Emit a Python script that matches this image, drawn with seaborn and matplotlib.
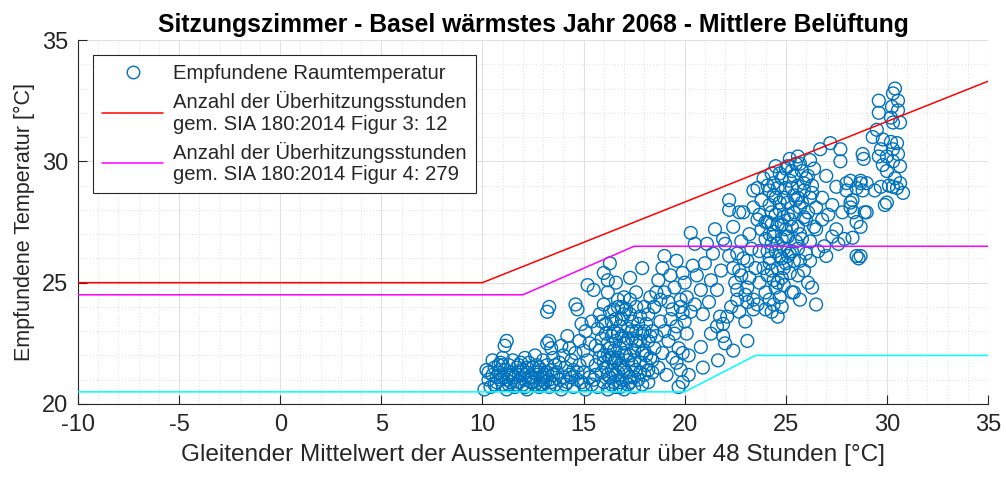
import matplotlib
matplotlib.use("Agg")
import matplotlib.pyplot as plt
import pandas as pd
import seaborn as sns
from matplotlib.lines import Line2D
from matplotlib.ticker import MultipleLocator

# ---------------------------------------------------------------------------
# Hourly points: 48h running mean of outdoor temperature vs. perceived room temp
# ---------------------------------------------------------------------------
mild_x = [10.2, 10.3, 10.4, 10.5, 10.6, 10.7, 10.8, 10.9, 11.0, 11.0, 11.1, 11.2, 11.2, 11.3,
          11.4, 11.4, 11.5, 11.6, 11.6, 11.7, 11.8, 11.8, 11.9, 12.0, 12.0, 12.1, 12.2, 12.2,
          12.3, 12.4, 12.4, 12.5, 12.6, 12.7, 12.7, 12.8, 12.9, 12.9, 13.0, 13.1, 13.1, 13.2,
          13.3, 13.3, 13.4, 13.5, 10.1, 10.5, 11.1, 11.2, 11.0, 12.6, 12.1,
          10.3, 10.6, 10.8, 10.9, 11.3, 11.5, 11.7, 11.9, 12.1, 12.3, 12.5, 12.8, 13.0, 13.2,
          13.4, 10.7, 11.0, 11.3, 11.8, 12.2, 12.6, 12.9, 13.0, 13.5, 13.6, 13.8, 14.1, 14.4,
          14.7, 15.0]
mild_y = [21.4, 21.0, 20.7, 21.2, 21.5, 20.9, 21.3, 21.7, 20.8, 21.1, 21.4, 20.6, 21.0, 21.6,
          20.9, 21.3, 21.8, 20.7, 21.1, 21.5, 20.9, 21.2, 21.7, 20.8, 21.4, 21.0, 20.6, 21.3,
          21.7, 20.9, 21.1, 21.5, 20.8, 21.2, 21.6, 20.7, 21.0, 21.4, 21.8, 20.9, 21.2, 21.6,
          20.7, 21.0, 21.4, 21.9, 20.6, 21.8, 22.4, 22.6, 21.9, 22.0, 21.9,
          21.3, 20.8, 21.6, 21.0, 20.8, 21.2, 20.8, 21.3, 20.7, 21.1, 20.9, 21.5, 20.8, 21.3,
          20.9, 21.1, 21.6, 21.2, 21.6, 21.5, 21.3, 20.8, 21.1, 21.2, 21.6, 21.0, 20.8, 21.1,
          21.3, 20.8]

spring_x = [13.6, 13.7, 13.8, 13.9, 14.0, 14.0, 14.1, 14.2, 14.3, 14.3, 14.4, 14.5, 14.5, 14.6,
            14.7, 14.8, 14.8, 14.9, 15.0, 15.0, 15.1, 15.1, 15.2, 15.3, 15.3, 15.4, 15.4, 13.3,
            13.4, 13.2, 13.2, 13.3, 14.7, 14.6, 14.2, 14.9, 13.9]
spring_y = [20.8, 21.3, 21.7, 20.6, 21.1, 22.0, 21.5, 20.9, 22.3, 21.2, 21.8, 20.7, 21.4, 22.1,
            21.0, 22.6, 21.6, 20.9, 21.3, 22.2, 23.0, 20.6, 21.8, 22.5, 21.1, 23.4, 20.8, 22.6,
            22.3, 22.5, 23.8, 24.0, 23.9, 24.1, 22.8, 23.3, 22.4]

warm_x = [15.5, 15.6, 15.6, 15.7, 15.7, 15.8, 15.8, 15.9, 15.9, 16.0, 16.0, 16.0,
          16.1, 16.1, 16.2, 16.2, 16.2, 16.3, 16.3, 16.3, 16.4, 16.4, 16.4, 16.5, 16.5, 16.5,
          16.6, 16.6, 16.6, 16.6, 16.7, 16.7, 16.8, 16.8, 16.8, 16.9, 16.9, 16.9, 17.0, 17.0, 17.0,
          17.1, 17.1, 17.1, 17.2, 17.2, 17.2, 17.3, 17.3, 17.3, 17.4, 17.4, 17.4, 17.5, 17.5,
          17.6, 17.6, 17.6, 17.7, 17.7, 17.8, 17.8, 17.9, 17.9, 18.0, 18.0, 18.0,
          18.1, 18.1, 18.2, 18.2, 18.3, 18.3, 18.4, 18.4, 18.5, 18.5,
          15.2, 15.5, 16.2, 16.7, 17.0, 16.3, 17.3, 17.9, 16.0, 16.6,
          15.6, 15.8, 16.0, 16.1, 16.2, 16.3, 16.4, 16.5, 16.6, 16.7, 16.8, 16.9, 17.0, 17.1,
          17.2, 17.3, 17.4, 17.5, 17.6, 17.7, 17.8, 17.9, 18.0, 18.1, 18.2, 18.3, 16.5, 16.9,
          17.6, 15.9, 16.2, 16.7, 17.3, 17.8, 18.4, 17.0, 16.4, 17.5, 16.8, 18.2]
warm_y = [21.0, 21.6, 22.4, 20.7, 23.1, 21.9, 23.7, 21.3, 22.7, 20.9, 24.1, 22.0,
          21.5, 23.3, 20.6, 22.5, 24.6, 21.1, 21.9, 23.8, 20.8, 22.8, 21.4, 23.0, 22.2, 21.7,
          20.7, 21.2, 22.6, 23.5, 21.9, 24.0, 20.9, 22.3, 23.2, 21.5, 22.8, 21.0, 23.7, 22.1, 20.6,
          21.3, 22.5, 23.9, 20.8, 21.8, 23.1, 22.0, 24.3, 21.1, 22.7, 21.6, 23.4, 20.7, 22.2,
          21.4, 23.0, 24.6, 21.0, 22.4, 21.7, 23.6, 20.8, 22.9, 21.2, 22.2, 24.0,
          21.6, 23.3, 20.9, 22.6, 21.9, 24.4, 21.3, 23.0, 22.3, 24.0,
          24.9, 24.7, 25.1, 24.3, 24.4, 25.8, 25.2, 25.6, 25.4, 25.0,
          21.2, 22.2, 21.7, 22.9, 21.2, 22.3, 23.4, 20.9, 21.8, 22.9, 21.6, 23.5, 21.4, 22.0,
          22.7, 20.9, 23.0, 21.8, 22.6, 23.3, 21.3, 22.1, 23.0, 22.0, 21.4, 22.8, 23.9, 24.0,
          24.0, 23.4, 22.0, 21.3, 23.7, 22.6, 21.8, 22.5, 21.9, 21.1, 20.7, 23.7]

early_summer_x = [18.8, 19.8, 18.5, 19.4, 19.9, 19.0, 19.6, 18.9, 19.9, 20.1, 19.9, 19.6, 19.9,
                  19.7, 20.3, 20.5, 20.6, 20.8, 20.8,
                  18.6, 18.7, 18.8, 18.9, 19.0, 19.0, 19.1, 19.2, 19.2, 19.3, 19.4, 19.5, 19.5,
                  19.6, 19.7, 19.8, 19.8, 20.0, 20.0, 20.1, 20.2, 20.3, 20.4, 20.5, 18.7, 19.3,
                  18.6, 20.2]
early_summer_y = [24.3, 24.3, 24.0, 23.9, 23.75, 26.1, 25.9, 25.6, 25.4, 22.9, 22.1, 21.7, 20.9,
                  20.7, 27.05, 26.6, 25.3, 24.7, 22.35,
                  22.8, 21.5, 23.4, 22.1, 24.6, 23.0, 21.2, 22.6, 24.2, 23.5, 21.9, 22.9, 24.8,
                  23.2, 22.3, 24.0, 21.4, 23.4, 25.0, 24.4, 22.0, 23.8, 25.7, 24.1, 25.1, 25.3,
                  24.6, 21.2]

summer_x = [21.1, 21.3, 21.6, 21.75, 21.6, 21.9, 22.0, 21.65, 23.1, 22.6, 23.1, 23.4, 22.6,
            22.7, 23.1, 22.2, 23.4, 23.6, 22.9, 22.2, 22.7, 23.4, 21.9, 22.6, 22.2, 23.4, 23.1,
            22.1, 21.9,
            22.5, 22.8, 23.0, 23.2, 22.9, 23.3, 22.4, 23.5, 23.0, 22.7, 21.0, 21.4, 20.9, 21.2,
            22.3, 21.8, 22.0, 21.5, 22.4, 23.2, 22.8, 21.3, 22.4, 20.9]
summer_y = [26.6, 25.1, 24.7, 23.6, 23.2, 22.8, 22.5, 21.8, 22.6, 24.3, 24.8, 24.3, 24.7,
            25.5, 25.9, 28.0, 28.1, 27.6, 27.9, 28.4, 27.9, 28.8, 26.8, 26.2, 26.1, 23.9, 24.2,
            23.6, 23.3,
            25.0, 25.3, 24.5, 25.2, 26.0, 26.4, 25.6, 25.6, 23.4, 23.8, 25.8, 26.2, 23.7, 24.2,
            24.0, 25.5, 26.6, 27.2, 27.3, 27.0, 26.7, 22.9, 22.2, 21.5]

hot_x = [23.6, 23.7, 23.7, 23.8, 23.8, 23.9, 23.9, 24.0, 24.0, 23.6, 23.7, 24.0,
         24.1, 24.1, 24.1, 24.2, 24.2, 24.2, 24.3, 24.3, 24.3, 24.4, 24.4, 24.4, 24.5, 24.5,
         24.5, 24.3, 24.4, 24.2,
         24.6, 24.6, 24.6, 24.7, 24.7, 24.7, 24.8, 24.8, 24.8, 24.9, 24.9, 24.9, 25.0, 25.0,
         25.0, 24.6, 24.8,
         25.1, 25.1, 25.1, 25.2, 25.2, 25.3, 25.3, 25.3, 25.4, 25.4, 25.5, 25.5, 25.4, 25.2,
         25.6, 25.6, 25.6, 25.7, 25.7, 25.8, 25.8, 25.9, 25.9, 26.0, 26.0, 25.7, 25.6,
         26.1, 26.1, 26.2, 26.2, 26.2, 26.3, 26.3, 26.4, 26.5, 26.5, 26.5, 26.4,
         24.0, 24.1, 24.2, 24.3, 24.4, 24.5, 24.6, 24.7, 24.8, 24.9, 25.0, 25.1, 25.2, 25.3,
         25.4, 25.5, 25.6, 25.7, 25.8, 25.9, 26.0, 26.1, 26.2, 26.3, 24.4, 24.6, 24.9, 25.2,
         24.3, 24.7, 25.0, 25.3, 25.6, 25.9, 24.5, 24.8, 25.1, 25.4, 24.2, 25.7]
hot_y = [24.1, 25.0, 26.3, 27.2, 28.4, 29.3, 25.6, 26.8, 24.6, 28.9, 27.8, 23.9,
         25.3, 27.5, 29.0, 26.0, 28.2, 24.3, 26.6, 27.9, 29.5, 25.1, 27.1, 28.6, 26.3, 24.8,
         29.8, 23.8, 26.9, 27.0,
         25.6, 27.4, 28.9, 26.1, 28.0, 24.4, 26.8, 29.3, 25.2, 27.7, 28.5, 26.4, 25.8, 27.2,
         29.7, 23.6, 24.0,
         26.9, 28.3, 29.8, 27.6, 25.4, 28.9, 26.3, 24.6, 27.9, 29.4, 26.7, 28.4, 24.6, 30.1,
         30.2, 27.3, 29.0, 25.9, 28.1, 29.6, 26.8, 27.7, 28.8, 26.2, 29.3, 24.3, 25.3,
         27.9, 25.0, 28.5, 30.05, 25.9, 24.8, 29.0, 27.3, 28.1, 27.2, 24.1, 29.7,
         27.5, 26.3, 28.8, 25.5, 29.1, 27.8, 26.6, 29.5, 27.4, 25.6, 28.9, 26.1, 29.2, 27.3,
         25.9, 29.9, 28.5, 27.0, 28.3, 25.5, 27.6, 29.4, 26.7, 28.7, 24.1, 25.0, 24.9, 26.2,
         27.4, 28.3, 26.9, 29.6, 26.4, 29.1, 28.5, 26.0, 27.8, 28.6, 25.8, 29.9]

heatwave_x = [26.7, 26.8, 26.8, 27.0, 27.0, 27.2, 27.3, 27.3, 27.5, 27.5, 27.7, 27.7, 27.8,
              28.0, 28.0, 28.2, 28.2, 28.3, 28.2, 28.35, 28.5, 28.5, 28.6, 28.7, 28.7, 28.7,
              28.7, 28.8, 28.8, 28.85, 28.9, 29.0, 29.0, 28.3, 28.5, 26.9, 27.1, 27.6, 27.9, 26.6,
              30.4, 30.3, 30.55, 29.6, 29.6, 30.25, 30.55, 30.3, 30.65, 30.2, 29.5, 29.3, 29.8,
              30.2, 30.5, 29.7, 30.3, 30.0, 30.55, 29.6, 30.3, 29.8, 30.65, 30.0, 30.4, 30.65,
              30.3, 30.8, 30.0, 29.7, 30.5, 30.1, 29.4, 29.9]
heatwave_y = [30.5, 27.6, 28.5, 26.1, 29.4, 30.75, 26.9, 28.2, 27.2, 28.95, 30.5, 30.0, 27.9,
              29.1, 28.8, 28.1, 29.2, 28.4, 28.3, 27.9, 27.5, 28.9, 26.0, 27.3, 29.1, 29.2,
              26.1, 30.3, 28.8, 30.1, 27.9, 27.9, 29.1, 26.85, 26.1, 26.5, 27.8, 26.6, 26.8, 26.3,
              33.0, 32.8, 32.5, 32.5, 32.0, 32.25, 32.1, 31.6, 31.6, 31.8, 31.3, 31.0, 30.9,
              30.8, 30.75, 30.5, 30.5, 30.2, 30.3, 30.2, 30.0, 29.85, 29.8, 29.6, 29.3, 29.1,
              28.95, 28.7, 28.3, 28.95, 28.9, 29.0, 28.8, 28.2]

# ---------------------------------------------------------------------------
# Comfort limits after SIA 180:2014
# ---------------------------------------------------------------------------
fig3_x = [-10, 10, 35]
fig3_y = [25.0, 25.0, 33.3]
fig4_x = [-10, 12, 17.5, 35]
fig4_y = [24.5, 24.5, 26.5, 26.5]
lower_x = [-10, 20, 23.5, 35]
lower_y = [20.5, 20.5, 22.0, 22.0]

hours_fig3 = 12
hours_fig4 = 279

title = "Sitzungszimmer - Basel wärmstes Jahr 2068 - Mittlere Belüftung"
x_label = "Gleitender Mittelwert der Aussentemperatur über 48 Stunden [°C]"
y_label = "Empfundene Temperatur [°C]"
x_ticks = [-10, -5, 0, 5, 10, 15, 20, 25, 30, 35]
y_ticks = [20, 25, 30, 35]

points = pd.DataFrame({
    "t_out": mild_x + spring_x + warm_x + early_summer_x + summer_x + hot_x + heatwave_x,
    "t_room": mild_y + spring_y + warm_y + early_summer_y + summer_y + hot_y + heatwave_y,
})

sns.set_theme(style="white")
plt.rcParams["font.family"] = ["Liberation Sans", "DejaVu Sans"]

BLUE = "#0072BD"
DARK = "#262626"

fig = plt.figure(figsize=(10.06, 4.78), dpi=100)
ax = fig.add_axes([78 / 1006, 1 - 404 / 478, 910 / 1006, 364 / 478])

sns.scatterplot(data=points, x="t_out", y="t_room", ax=ax, marker="o", s=85,
                facecolor="none", edgecolor=BLUE, linewidth=1.0, legend=False, zorder=3)

for xs, ys, col in [(fig3_x, fig3_y, "#ff0000"), (fig4_x, fig4_y, "#ff00ff"),
                    (lower_x, lower_y, "#00ffff")]:
    sns.lineplot(x=xs, y=ys, ax=ax, color=col, linewidth=1.1, sort=False,
                 estimator=None, legend=False, zorder=4)

ax.set_xlim(x_ticks[0], x_ticks[-1])
ax.set_ylim(y_ticks[0], y_ticks[-1])
ax.set_xticks(x_ticks)
ax.set_yticks(y_ticks)
ax.set_xticklabels([str(v) for v in x_ticks])
ax.xaxis.set_minor_locator(MultipleLocator(1))
ax.yaxis.set_minor_locator(MultipleLocator(1))

ax.grid(True, which="major", color="#e0e0e0", linewidth=0.8, linestyle="-", zorder=0)
ax.grid(True, which="minor", color="#d6d6d6", linewidth=0.6, linestyle=(0, (1, 2.5)), zorder=0)
ax.set_axisbelow(True)

for side in ["top", "right"]:
    ax.spines[side].set_visible(False)
for side in ["left", "bottom"]:
    ax.spines[side].set_color(DARK)
    ax.spines[side].set_linewidth(0.8)

ax.tick_params(axis="both", which="major", direction="in", length=6.5, width=0.8,
               color=DARK, labelcolor=DARK, labelsize=17, pad=7,
               bottom=True, left=True, top=False, right=False)
ax.tick_params(axis="both", which="minor", length=0)

ax.set_title(title, fontsize=17.8, fontweight="bold", color="black", pad=6)
ax.set_xlabel(x_label, fontsize=17.6, color=DARK, labelpad=6)
ax.set_ylabel(y_label, fontsize=15.5, color=DARK, labelpad=5)

handles = [
    Line2D([], [], marker="o", linestyle="none", markerfacecolor="none",
           markeredgecolor=BLUE, markersize=9, markeredgewidth=1.0),
    Line2D([], [], color="#ff0000", linewidth=1.1),
    Line2D([], [], color="#ff00ff", linewidth=1.1),
]
labels = [
    "Empfundene Raumtemperatur",
    f"Anzahl der Überhitzungsstunden\ngem. SIA 180:2014 Figur 3: {hours_fig3}",
    f"Anzahl der Überhitzungsstunden\ngem. SIA 180:2014 Figur 4: {hours_fig4}",
]
leg = ax.legend(handles, labels, loc="upper left",
                bbox_to_anchor=(93 / 1006, 1 - 55 / 478), bbox_transform=fig.transFigure,
                fontsize=14.6, frameon=True, fancybox=False, framealpha=1,
                handlelength=3.0, handletextpad=0.5, borderpad=0.45,
                labelspacing=0.4, borderaxespad=0)
leg.get_frame().set_edgecolor(DARK)
leg.get_frame().set_linewidth(0.8)
for t in leg.get_texts():
    t.set_color(DARK)
    t.set_linespacing(1.15)

fig.savefig("out.png", dpi=100, facecolor="white")
